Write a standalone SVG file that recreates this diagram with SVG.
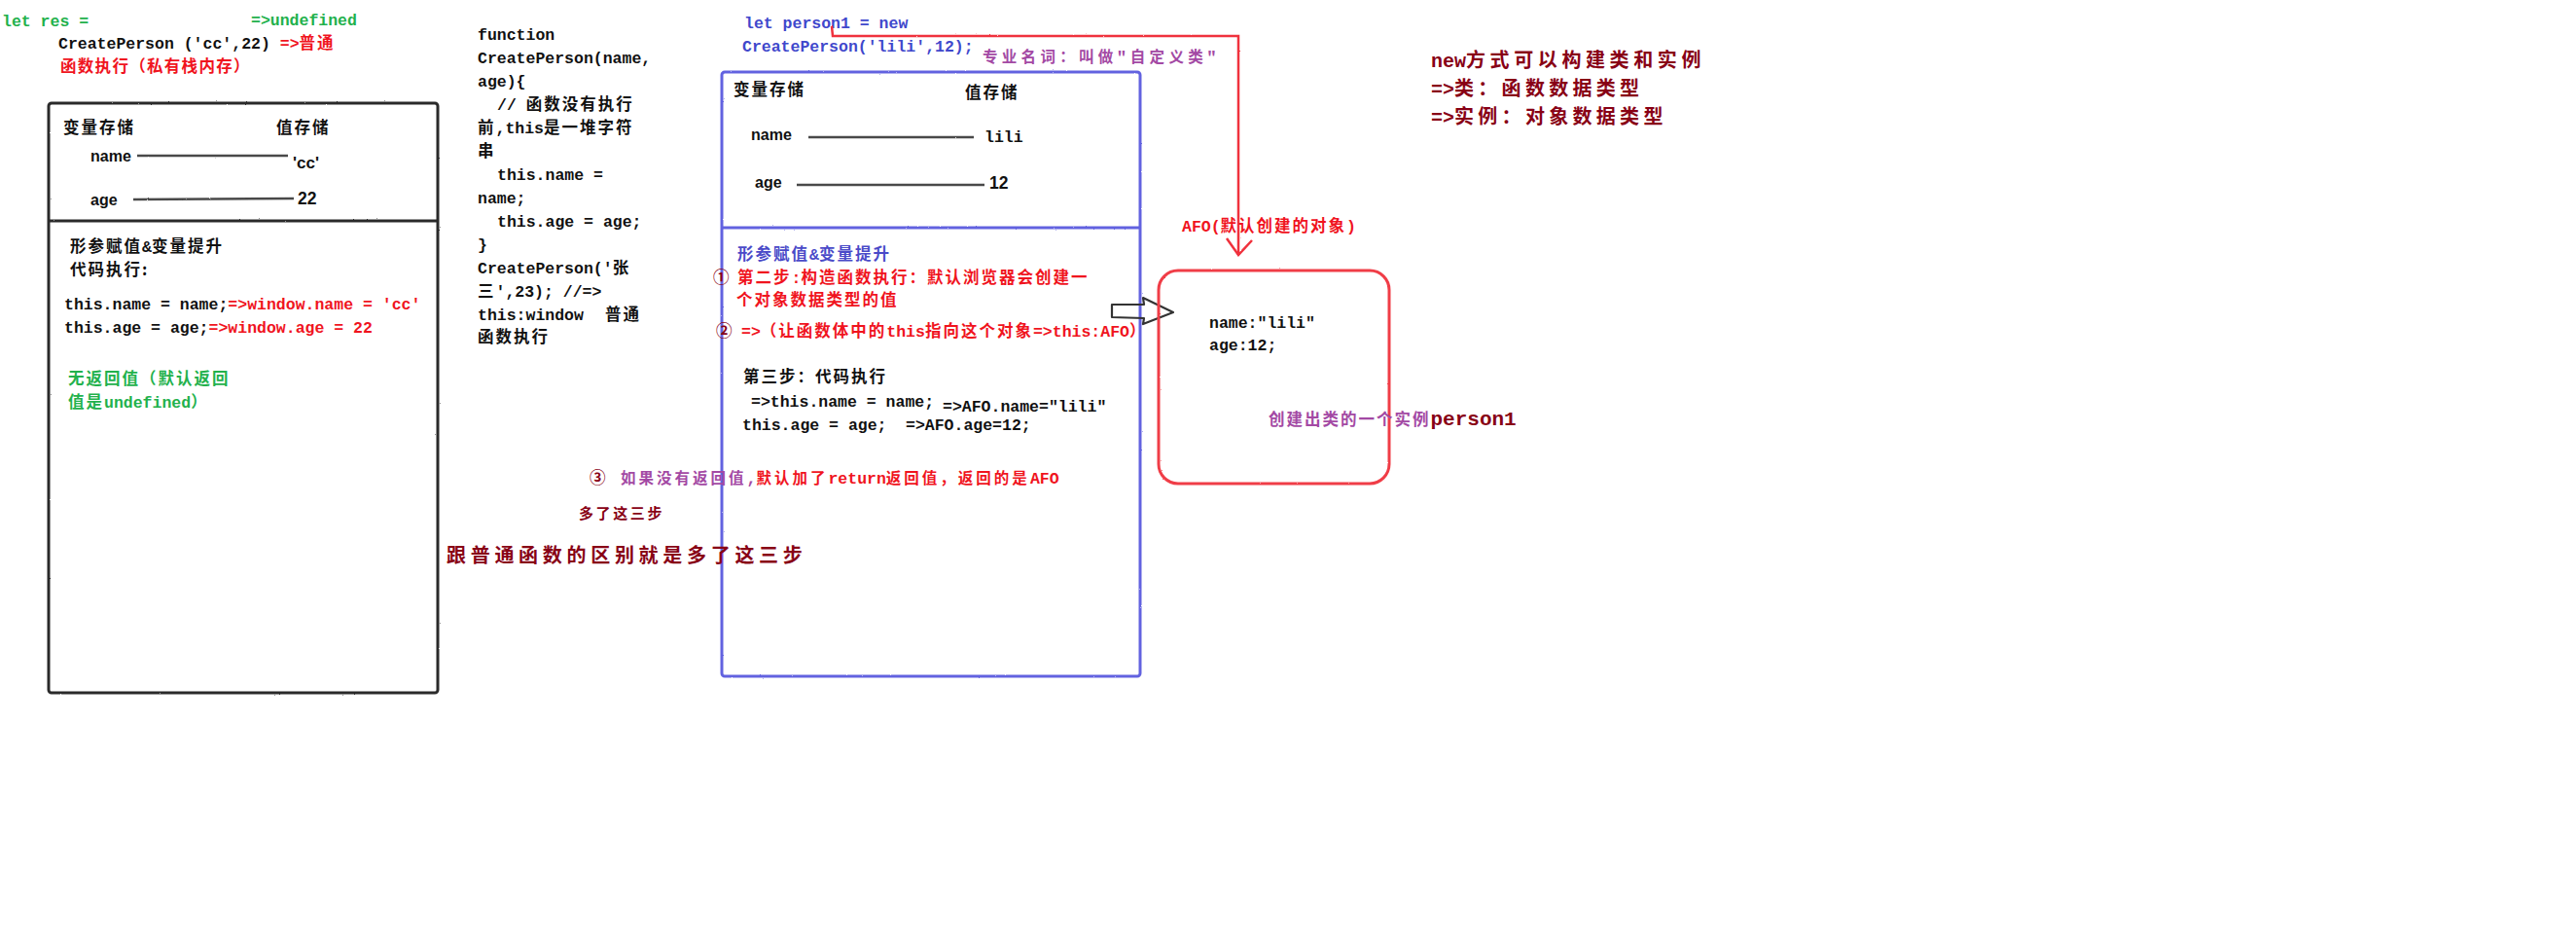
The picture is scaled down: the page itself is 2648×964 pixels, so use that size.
<svg xmlns="http://www.w3.org/2000/svg" width="2648" height="964" viewBox="0 0 2648 964">
<defs>
<filter id="rough" x="-5%" y="-5%" width="110%" height="110%">
<feTurbulence type="fractalNoise" baseFrequency="0.9" numOctaves="2" seed="3" result="n"/>
<feDisplacementMap in="SourceGraphic" in2="n" scale="1.6" xChannelSelector="R" yChannelSelector="G"/>
</filter>
</defs>
<style>
text{fill:#111}
.m{font-family:"Liberation Mono","Noto Sans CJK SC",monospace;font-size:16.5px;font-weight:700;letter-spacing:0}
.k{font-family:"Noto Sans CJK SC",sans-serif;font-size:16.5px;font-weight:700;letter-spacing:2px}
.s{font-family:"Liberation Sans","Noto Sans CJK SC",sans-serif;font-size:16px;font-weight:700;letter-spacing:0}
.g{fill:#22b14c}
.r{fill:#f0141e}
.d{fill:#880015}
.p{fill:#a349a4}
.b{fill:#3f48cc}
.bl{fill:#4a4ac8}
.box{fill:none;stroke-width:3}
.lk{stroke:#4a4a4a;stroke-width:2.4;fill:none}
</style>
<rect width="2648" height="964" fill="#fff"/>

<g id="header-normal">
<text class="m g" x="2" y="27">let res =</text>
<text class="m g" x="258" y="26">=&gt;undefined</text>
<text class="m" x="60" y="50">CreatePerson ('cc',22) <tspan class="r">=&gt;<tspan class="k r">普通</tspan></tspan></text>
<text class="k r" x="62" y="74" style="letter-spacing:1.3px">函数执行（私有栈内存）</text>
</g>

<g id="stack-normal">
<g filter="url(#rough)">
<rect class="box" x="50" y="106" width="400" height="606" rx="3" stroke="#2a2a2a"/>
<line x1="50" y1="227" x2="450" y2="227" stroke="#2a2a2a" stroke-width="3"/>
<line class="lk" x1="141" y1="160" x2="296" y2="160"/>
<line class="lk" x1="137" y1="205" x2="302" y2="204"/>
</g>
<text class="k" x="65" y="137">变量存储</text>
<text class="k" x="284" y="137">值存储</text>
<text class="s" x="93" y="166">name</text>
<text class="s" x="301" y="173" style="font-size:17px">'cc'</text>
<text class="s" x="93" y="211">age</text>
<text class="s" x="306" y="210" style="font-size:17.5px">22</text>
<text class="k" x="72" y="259">形参赋值<tspan class="m">&amp;</tspan>变量提升</text>
<text class="k" x="72" y="283">代码执行:</text>
<text class="m" x="66" y="318">this.name = name;<tspan class="r">=&gt;window.name = 'cc'</tspan></text>
<text class="m" x="66" y="342">this.age = age;<tspan class="r">=&gt;window.age = 22</tspan></text>
<text class="k g" x="70" y="395">无返回值（默认返回</text>
<text class="k g" x="70" y="419">值是<tspan class="m g">undefined</tspan>）</text>
</g>

<g id="function-code">
<text class="m" x="491" y="41">function</text>
<text class="m" x="491" y="65">CreatePerson(name,</text>
<text class="m" x="491" y="89">age){</text>
<text class="m" x="511" y="113">// <tspan class="k">函数没有执行</tspan></text>
<text class="m" x="491" y="137"><tspan class="k">前</tspan>,this<tspan class="k">是一堆字符</tspan></text>
<text class="k" x="491" y="161">串</text>
<text class="m" x="511" y="185">this.name =</text>
<text class="m" x="491" y="209">name;</text>
<text class="m" x="511" y="233">this.age = age;</text>
<text class="m" x="491" y="257">}</text>
<text class="m" x="491" y="281">CreatePerson('<tspan class="k">张</tspan></text>
<text class="m" x="491" y="305"><tspan class="k">三</tspan>',23); //=&gt;</text>
<text class="m" x="491" y="329">this:window<tspan class="k" x="622">普通</tspan></text>
<text class="k" x="491" y="352">函数执行</text>
</g>

<g id="header-new">
<text class="m b" x="765" y="29">let person1 = new</text>
<text class="m b" x="763" y="53">CreatePerson('lili',12);</text>
<line x1="760" y1="61" x2="988" y2="61" stroke="#a349a4" stroke-width="2" opacity="0.75" filter="url(#rough)"/>
<text class="k p" x="1010" y="64" style="font-size:15.5px;letter-spacing:4.3px">专业名词：叫做"自定义类"</text>
</g>

<g id="stack-new">
<g filter="url(#rough)">
<rect class="box" x="742" y="74" width="430" height="621" rx="3" stroke="#6262e0"/>
<line x1="742" y1="234" x2="1172" y2="234" stroke="#6262e0" stroke-width="3"/>
<line class="lk" x1="831" y1="141" x2="1001" y2="141"/>
<line class="lk" x1="819" y1="190" x2="1012" y2="190"/>
</g>
<text class="k" x="754" y="98">变量存储</text>
<text class="k" x="992" y="101">值存储</text>
<text class="s" x="772" y="144">name</text>
<text class="m" x="1012" y="146">lili</text>
<text class="s" x="776" y="193">age</text>
<text class="s" x="1017" y="194" style="font-size:17.5px">12</text>
<text class="k bl" x="758" y="267">形参赋值<tspan class="m bl">&amp;</tspan>变量提升</text>
<text class="k d" x="733" y="291" style="letter-spacing:0">①</text>
<text class="k r" x="758" y="291">第二步<tspan class="m r">:</tspan>构造函数执行：默认浏览器会创建一</text>
<text class="k r" x="757" y="314">个对象数据类型的值</text>
<text class="k d" x="736" y="346" style="letter-spacing:0">②</text>
<text class="m r" x="762" y="346">=&gt;<tspan class="k r">（让函数体中的</tspan>this<tspan class="k r">指向这个对象</tspan>=&gt;this:AFO<tspan class="k r">）</tspan></text>
<text class="k" x="764" y="393">第三步：代码执行</text>
<text class="m" x="772" y="418">=&gt;this.name = name;</text>
<text class="m" x="969" y="423">=&gt;AFO.name="lili"</text>
<text class="m" x="763" y="442">this.age = age;</text>
<text class="m" x="931" y="442">=&gt;AFO.age=12;</text>
</g>

<g id="connectors">
<g filter="url(#rough)">
<path d="M855,27 L856,37 L1273,37 L1273,262" fill="none" stroke="#f0303c" stroke-width="2.5"/>
<path d="M1261,245 L1273,262 L1287,247" fill="none" stroke="#f0303c" stroke-width="2.5"/>
</g>
<path d="M1143,313 L1176,313 L1175,306 L1206,321 L1175,333 L1176,327 L1143,326 Z" fill="none" stroke="#333" stroke-width="2.2" stroke-linejoin="round"/>
</g>

<g id="afo-object">
<text class="m r" x="1215" y="238">AFO(<tspan class="k r">默认创建的对象</tspan>)</text>
<rect class="box" x="1191" y="278" width="237" height="219" rx="20" stroke="#f03c46" filter="url(#rough)"/>
<text class="m" x="1243" y="337">name:"lili"</text>
<text class="m" x="1243" y="360">age:12;</text>
<text class="k p" x="1304" y="437">创建出类的一个实例<tspan class="m d" style="font-size:21px">person1</tspan></text>
</g>

<g id="notes">
<text class="m d" x="1471" y="69" style="font-size:20px">new<tspan class="k d" style="font-size:20px;letter-spacing:4.6px">方式可以构建类和实例</tspan></text>
<text class="m d" x="1471" y="98" style="font-size:20px">=&gt;<tspan class="k d" style="font-size:20px;letter-spacing:4.3px">类：函数数据类型</tspan></text>
<text class="m d" x="1471" y="127" style="font-size:20px">=&gt;<tspan class="k d" style="font-size:20px;letter-spacing:4.3px">实例：对象数据类型</tspan></text>
<text class="k d" x="606" y="497" style="letter-spacing:0">③</text>
<text class="k p" x="638" y="497" style="font-size:15.5px;letter-spacing:3px">如果没有返回值<tspan class="m p">,</tspan><tspan class="r">默认加了<tspan class="m r">return</tspan>返回值，返回的是<tspan class="m r">AFO</tspan></tspan></text>
<text class="k d" x="595" y="533" style="font-size:15px;letter-spacing:2.6px">多了这三步</text>
<text class="k d" x="459" y="578" style="font-size:20px;letter-spacing:4.7px">跟普通函数的区别就是多了这三步</text>
</g>
</svg>
